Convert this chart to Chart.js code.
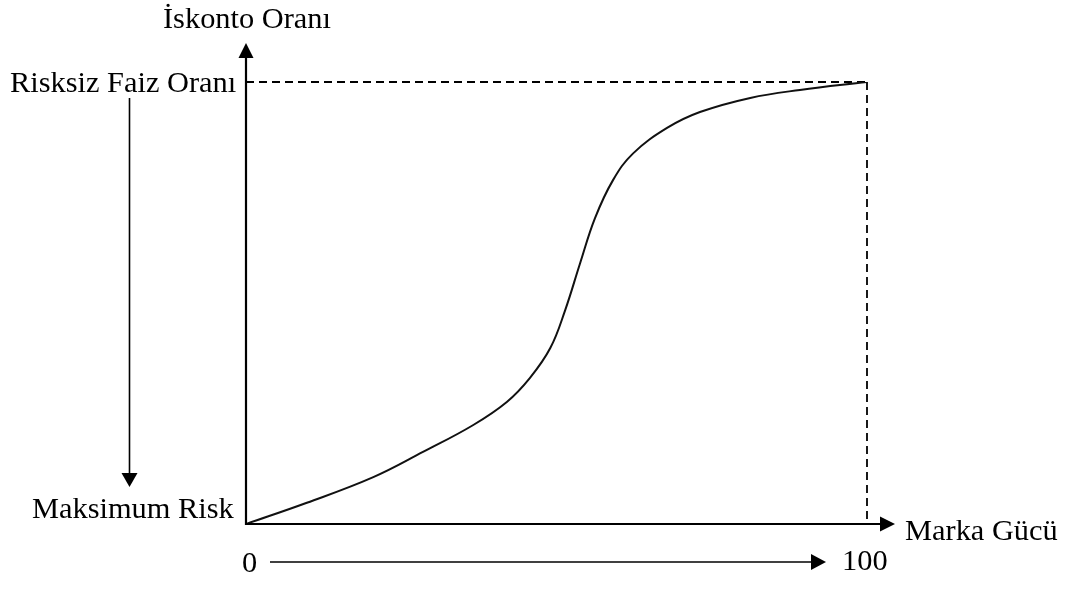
<!DOCTYPE html>
<html>
<head>
<meta charset="utf-8">
<script src="https://cdn.jsdelivr.net/npm/chart.js@4.4.0/dist/chart.umd.min.js"></script>
<style>
  html, body { margin: 0; padding: 0; background: #fff; }
  #wrap { width: 1072px; height: 590px; position: relative; }
</style>
</head>
<body>
<div id="wrap"><canvas id="c"></canvas></div>
<script>
// Marka gücü (0-100) -> iskonto oranı (0 = maksimum risk, 100 = risksiz faiz oranı)
const markaGucu  = [0, 9.8, 20.5, 28.5, 36.6, 42.0, 45.7, 49.0, 51.4, 53.8, 56.2, 59.1, 62.3, 67.8, 73.1, 81.2, 89.2, 100];
const iskonto    = [0, 4.8, 10.6, 16.3, 22.4, 27.6, 33.0, 39.8, 48.4, 59.0, 69.2, 77.8, 83.8, 89.6, 93.2, 96.4, 98.2, 100];

const yTitle     = "İskonto Oranı";
const xTitle     = "Marka Gücü";
const yTopLabel  = "Risksiz Faiz Oranı";
const yBotLabel  = "Maksimum Risk";
const xMinLabel  = "0";
const xMaxLabel  = "100";

const FONT = "30.4px 'Liberation Serif', 'Times New Roman', serif";

function arrowHead(ctx, x, y, dir, len, half){
  ctx.beginPath();
  if (dir === "up")    { ctx.moveTo(x, y); ctx.lineTo(x-half, y+len); ctx.lineTo(x+half, y+len); }
  if (dir === "down")  { ctx.moveTo(x, y); ctx.lineTo(x-half, y-len); ctx.lineTo(x+half, y-len); }
  if (dir === "right") { ctx.moveTo(x, y); ctx.lineTo(x-len, y-half); ctx.lineTo(x-len, y+half); }
  ctx.closePath();
  ctx.fill();
}

// cizgiler, oklar ve yazilar
const decor = {
  id: "decor",
  beforeDatasetsDraw(chart){
    const {ctx} = chart;
    const xs = chart.scales.x, ys = chart.scales.y;
    const x0 = xs.getPixelForValue(0), x1 = xs.getPixelForValue(100);
    const y0 = ys.getPixelForValue(0), y1 = ys.getPixelForValue(100);
    ctx.save();
    ctx.strokeStyle = "#000";
    ctx.lineWidth = 1.8;
    ctx.setLineDash([8, 5]);
    ctx.beginPath();
    ctx.moveTo(x0, y1); ctx.lineTo(x1, y1);
    ctx.moveTo(x1, y1); ctx.lineTo(x1, y0);
    ctx.stroke();
    ctx.restore();
  },
  afterDatasetsDraw(chart){
    const {ctx} = chart;
    const xs = chart.scales.x, ys = chart.scales.y;
    const x0 = xs.getPixelForValue(0);
    const y0 = ys.getPixelForValue(0);
    ctx.save();
    ctx.fillStyle = "#000";
    ctx.strokeStyle = "#000";

    // eksenler
    ctx.lineWidth = 2.2;
    ctx.beginPath();
    ctx.moveTo(x0, y0 + 1); ctx.lineTo(x0, 56);
    ctx.moveTo(x0 - 1, y0); ctx.lineTo(882, y0);
    ctx.stroke();
    arrowHead(ctx, x0, 43, "up", 15, 7.5);
    arrowHead(ctx, 895, y0, "right", 15, 7.5);

    // risk oku (asagi)
    ctx.lineWidth = 1.6;
    ctx.beginPath();
    ctx.moveTo(129.5, 98); ctx.lineTo(129.5, 475);
    ctx.stroke();
    arrowHead(ctx, 129.5, 487, "down", 14, 8);

    // marka gucu oku (saga)
    ctx.beginPath();
    ctx.moveTo(270, 562); ctx.lineTo(813, 562);
    ctx.stroke();
    arrowHead(ctx, 826, 562, "right", 15, 8);

    // yazilar
    ctx.font = FONT;
    ctx.textBaseline = "alphabetic";
    ctx.textAlign = "left";
    ctx.fillText(yTitle, 163, 28);
    ctx.fillText(yTopLabel, 10, 92);
    ctx.fillText(yBotLabel, 32, 518);
    ctx.fillText(xTitle, 905, 540);
    ctx.fillText(xMinLabel, 242, 572);
    ctx.fillText(xMaxLabel, 842, 570);
    ctx.restore();
  }
};

new Chart(document.getElementById("c"), {
  type: "line",
  data: {
    datasets: [{
      data: markaGucu.map((x, i) => ({ x, y: iskonto[i] })),
      borderColor: "#111",
      borderWidth: 2,
      pointRadius: 0,
      fill: false,
      tension: 0.4
    }]
  },
  options: {
    responsive: true,
    maintainAspectRatio: false,
    animation: false,
    layout: { padding: { left: 246, right: 205, top: 82, bottom: 66 } },
    plugins: { legend: { display: false }, tooltip: { enabled: false } },
    scales: {
      x: { type: "linear", min: 0, max: 100, display: false },
      y: { type: "linear", min: 0, max: 100, display: false }
    }
  },
  plugins: [decor]
});
</script>
</body>
</html>
